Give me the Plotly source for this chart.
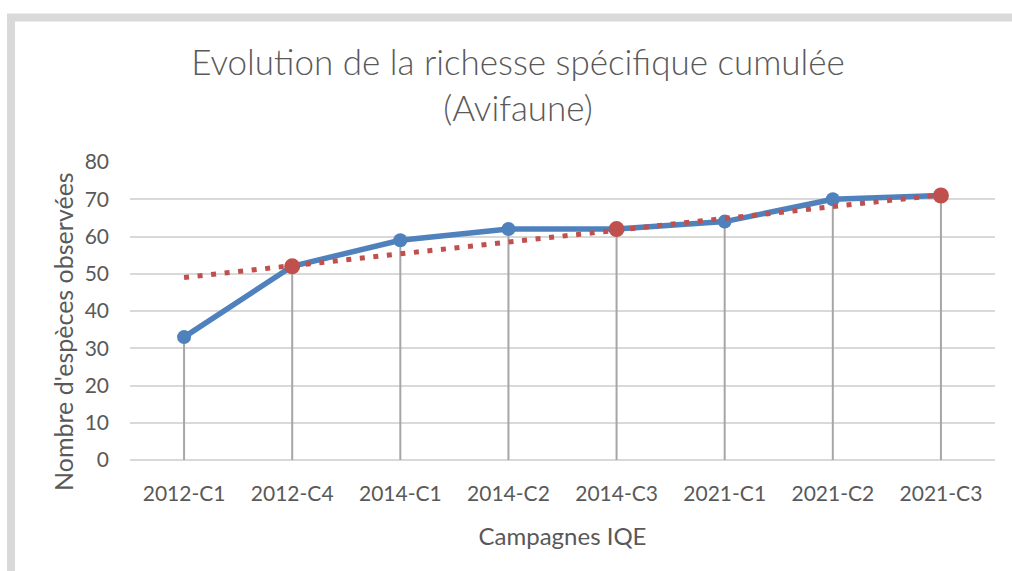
import plotly.graph_objects as go

categories = ["2012-C1", "2012-C4", "2014-C1", "2014-C2", "2014-C3", "2021-C1", "2021-C2", "2021-C3"]
especes = [33, 52, 59, 62, 62, 64, 70, 71]
red_cats = ["2012-C4", "2014-C3", "2021-C3"]
red_vals = [52, 62, 71]
trend_cats = ["2012-C1", "2021-C3"]
trend_vals = [49, 71.2]
y_ticks = [0, 10, 20, 30, 40, 50, 60, 70, 80]

FONT = "Lato"
TXT = "#595959"

W, H = 1012, 571
L, R, T, B = 130, 995, 162, 460
PW, PH = R - L, B - T

drop_x, drop_y = [], []
for c, v in zip(categories, especes):
    drop_x += [c, c, None]
    drop_y += [0, v, None]

fig = go.Figure()
fig.add_trace(go.Scatter(x=drop_x, y=drop_y, mode="lines",
                         line=dict(color="#a6a6a6", width=2), hoverinfo="skip", showlegend=False))
fig.add_trace(go.Scatter(x=categories, y=especes, mode="lines+markers",
                         line=dict(color="#4f81bd", width=5.5),
                         marker=dict(color="#4f81bd", size=14), showlegend=False))
fig.add_trace(go.Scatter(x=trend_cats, y=trend_vals, mode="lines",
                         line=dict(color="#c0504d", width=5, dash="5px,8.6px"), showlegend=False))
fig.add_trace(go.Scatter(x=red_cats, y=red_vals, mode="markers",
                         marker=dict(color="#c0504d", size=16), showlegend=False))

# frame: left and top edges only (right/bottom lie outside the window)
fx0 = (11 - L) / PW
fx1 = (1100 - L) / PW
fy0 = (B - 700) / PH
fy1 = (B - 17.5) / PH

fig.update_layout(
    width=W, height=H,
    margin=dict(l=L, r=W - R, t=T, b=H - B),
    paper_bgcolor="white", plot_bgcolor="white",
    font=dict(family=FONT, color=TXT, size=21),
    title=dict(text="Evolution de la richesse spécifique cumulée<br>(Avifaune)",
               x=518 / W, xanchor="center", y=1 - 75 / H, yanchor="middle",
               font=dict(family=FONT, size=35, color=TXT, weight=300)),
    xaxis=dict(type="category", categoryorder="array", categoryarray=categories,
               range=[-0.5, 7.5], showgrid=False, showline=False, ticks="",
               tickfont=dict(size=21, color=TXT), ticklabelstandoff=19,
               title=dict(text="Campagnes IQE", font=dict(size=24, color=TXT), standoff=24)),
    yaxis=dict(range=[0, 80], tickvals=y_ticks, showgrid=True, gridcolor="#d9d9d9", gridwidth=2,
               zeroline=True, zerolinecolor="#d9d9d9", zerolinewidth=2,
               showline=False, ticks="", ticklabelstandoff=20,
               tickfont=dict(size=21, color=TXT)),
    annotations=[dict(text="Nombre d'espèces observées", textangle=-90, showarrow=False,
                      xref="paper", yref="paper", x=(63 - L) / PW, y=(B - 332) / PH,
                      xanchor="center", yanchor="middle",
                      font=dict(size=25, color=TXT, family=FONT))],
    shapes=[dict(type="path", xref="paper", yref="paper",
                 path=f"M {fx0},{fy0} L {fx0},{fy1} L {fx1},{fy1}",
                 line=dict(color="#d9d9d9", width=8), layer="below")],
)

fig.write_html(
    "out.html",
    config={"displayModeBar": False},
    post_script="document.body.style.margin='0';document.body.style.overflow='hidden';"
                "document.documentElement.style.overflow='hidden';",
)
